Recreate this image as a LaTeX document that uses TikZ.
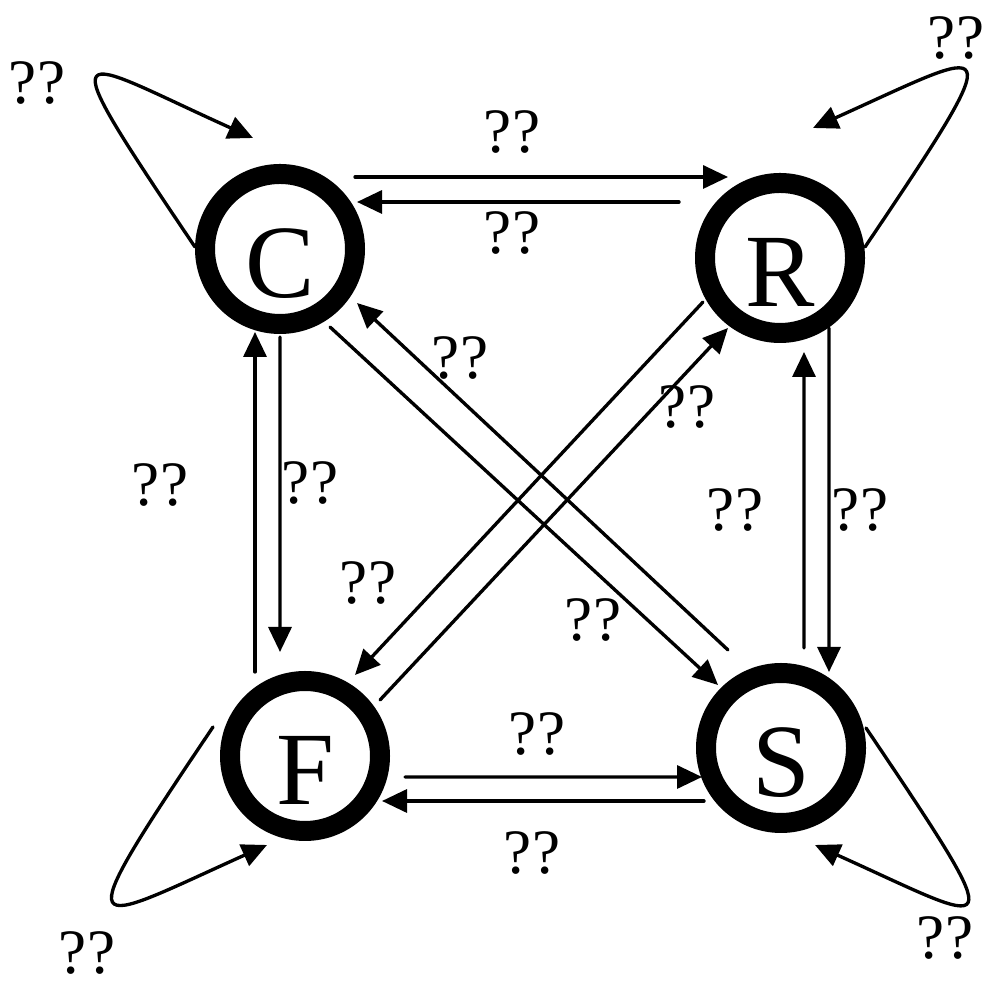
\documentclass[tikz,border=0pt]{standalone}
\usepackage{fontspec}
\setmainfont{Liberation Serif}
\usetikzlibrary{calc,arrows.meta}

\begin{document}
\begin{tikzpicture}[line cap=round,line join=round,
  state/.style={circle,draw,line width=2mm,minimum size=15mm,inner sep=0pt,
    font=\fontsize{29.6}{30}\selectfont,text height=9.7mm,text depth=0pt},
  qlabel/.style={font=\fontsize{18}{20}\selectfont,inner sep=0pt},
  trans/.style={-{Triangle[length=2.5mm,width=2.3mm]},line width=0.95pt}]
  \useasboundingbox (0,0) rectangle (9.85,9.85);

  % ---- states ----
  \node[state] (C) at (2.80,7.36) {C};
  \node[state] (R) at (7.80,7.27) {R};
  \node[state] (F) at (3.05,2.29) {F};
  \node[state] (S) at (7.81,2.37) {S};

  % ---- self loops ----
  \draw[trans] ($(C)+(-0.85,0.02)$) .. controls +(-1.51,2.24) and +(-1.82,0.82) .. ($(C)+(-0.27,1.11)$);
  \draw[trans] ($(R)+(0.85,0.11)$) .. controls +(1.51,2.24) and +(1.82,0.82) .. ($(R)+(0.33,1.30)$);
  \draw[trans] ($(F)+(-0.92,0.29)$) .. controls +(-1.51,-2.24) and +(-1.82,-0.82) .. ($(F)+(-0.38,-0.89)$);
  \draw[trans] ($(S)+(0.85,0.20)$) .. controls +(1.51,-2.24) and +(1.82,-0.82) .. ($(S)+(0.34,-0.97)$);
  \node[qlabel] (lCC) at (0.37,9.02) {??};
  \node[qlabel] (lRR) at (9.56,9.47) {??};
  \node[qlabel] (lFF) at (0.87,0.32) {??};
  \node[qlabel] (lSS) at (9.45,0.47) {??};

  % ---- C <-> R ----
  \draw[trans] ($(C)+(0.75,0.72)$) -- ($(R)+(-0.52,0.81)$);
  \draw[trans] ($(R)+(-1.01,0.56)$) -- ($(C)+(0.77,0.47)$);
  \node[qlabel] (lCR) at (5.12,8.53) {??};
  \node[qlabel] (lRC) at (5.12,7.52) {??};

  % ---- C <-> F ----
  \draw[trans] ($(F)+(-0.50,0.84)$) -- ($(C)+(-0.25,-0.83)$);
  \draw[trans] ($(C)+(0,-0.88)$) -- ($(F)+(-0.25,1.04)$);
  \node[qlabel] (lFC) at (1.60,5.00) {??};
  \node[qlabel] (lCF) at (3.10,5.02) {??};

  % ---- R <-> S ----
  \draw[trans] ($(S)+(0.23,1.00)$) -- ($(R)+(0.24,-0.94)$);
  \draw[trans] ($(R)+(0.49,-0.70)$) -- ($(S)+(0.48,0.76)$);
  \node[qlabel] (lSR) at (7.35,4.75) {??};
  \node[qlabel] (lRS) at (8.60,4.75) {??};

  % ---- F <-> S ----
  \draw[trans] ($(F)+(1.00,-0.21)$) -- ($(S)+(-0.79,-0.29)$);
  \draw[trans] ($(S)+(-0.77,-0.53)$) -- ($(F)+(0.77,-0.45)$);
  \node[qlabel] (lFS) at (5.37,2.51) {??};
  \node[qlabel] (lSF) at (5.32,1.32) {??};

  % ---- diagonals ----
  \draw[trans] ($(C)+(0.50,-0.78)$) -- ($(S)+(-0.63,0.63)$);
  \draw[trans] ($(S)+(-0.53,0.98)$) -- ($(C)+(0.77,-0.54)$);
  \draw[trans] ($(R)+(-0.77,-0.44)$) -- ($(F)+(0.50,0.81)$);
  \draw[trans] ($(F)+(0.75,0.56)$) -- ($(R)+(-0.52,-0.70)$);
  \node[qlabel] (lSC) at (4.60,6.27) {??};
  \node[qlabel] (lFR) at (6.87,5.78) {??};
  \node[qlabel] (lRF) at (3.68,4.02) {??};
  \node[qlabel] (lCS) at (5.93,3.65) {??};
\end{tikzpicture}
\end{document}
